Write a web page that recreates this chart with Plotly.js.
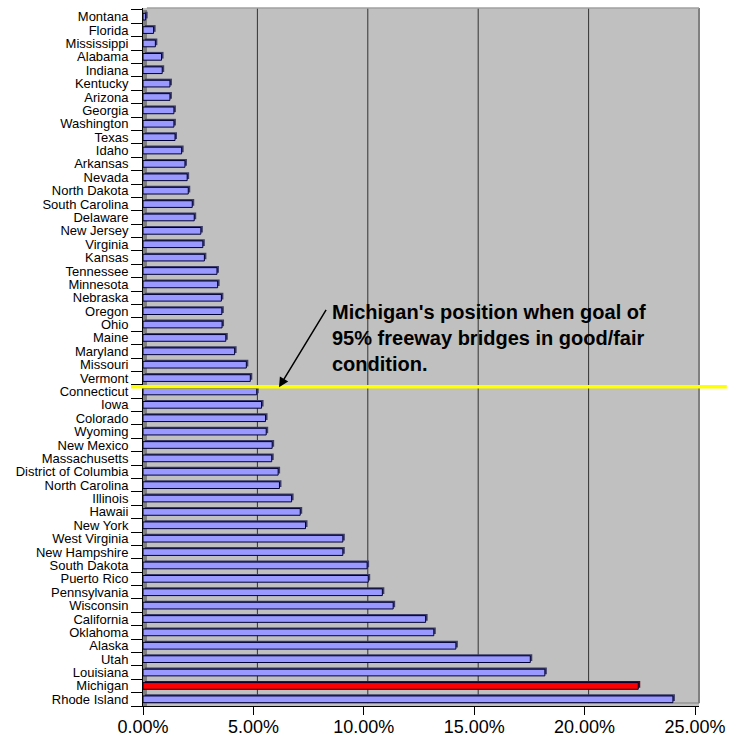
<!DOCTYPE html>
<html>
<head>
<meta charset="utf-8">
<script src="https://cdn.plot.ly/plotly-3.0.1.min.js"></script>
<style>
  html, body { margin: 0; padding: 0; background: #ffffff; }
  #chart { width: 735px; height: 740px; }
</style>
</head>
<body>
<div id="chart"></div>
<script>
var states = ["Montana","Florida","Mississippi","Alabama","Indiana","Kentucky","Arizona","Georgia","Washington","Texas","Idaho","Arkansas","Nevada","North Dakota","South Carolina","Delaware","New Jersey","Virginia","Kansas","Tennessee","Minnesota","Nebraska","Oregon","Ohio","Maine","Maryland","Missouri","Vermont","Connecticut","Iowa","Colorado","Wyoming","New Mexico","Massachusetts","District of Columbia","North Carolina","Illinois","Hawaii","New York","West Virginia","New Hampshire","South Dakota","Puerto Rico","Pennsylvania","Wisconsin","California","Oklahoma","Alaska","Utah","Louisiana","Michigan","Rhode Island"];

var percentValues = [0.12,0.48,0.56,0.84,0.87,1.22,1.22,1.40,1.40,1.45,1.75,1.90,2.00,2.05,2.23,2.32,2.62,2.71,2.78,3.35,3.38,3.55,3.57,3.58,3.75,4.15,4.68,4.86,5.15,5.37,5.55,5.58,5.85,5.83,6.12,6.18,6.73,7.12,7.36,9.05,9.05,10.15,10.20,10.84,11.33,12.80,13.17,14.17,17.54,18.20,22.43,24.00];

var highlightState = "Michigan";
var xTickValues = [0, 5, 10, 15, 20, 25];
var xTickText = ["0.00%", "5.00%", "10.00%", "15.00%", "20.00%", "25.00%"];
var annotationText = "Michigan's position when goal of<br>95% freeway bridges in good/fair<br>condition.";

var frontColors = states.map(function (s) { return s === highlightState ? "#ff0000" : "#9999ff"; });
var sideColors = states.map(function (s) { return s === highlightState ? "#600000" : "#3c3c66"; });

var shadow = {
  type: "bar", orientation: "h",
  y: states, x: percentValues, base: 0.09,
  width: 0.5, offset: -0.37,
  marker: { color: sideColors, line: { width: 0 } },
  hoverinfo: "skip", showlegend: false
};
var front = {
  type: "bar", orientation: "h",
  y: states, x: percentValues,
  width: 0.5, offset: -0.25,
  marker: { color: frontColors, line: { color: "#000033", width: 1 } },
  showlegend: false
};

var shapes = [];
xTickValues.slice(1, 5).forEach(function (v) {
  shapes.push({
    type: "line", layer: "below",
    xref: "x", xsizemode: "pixel", xanchor: v, x0: 4, x1: 4,
    yref: "paper", y0: 0.004, y1: 1,
    line: { color: "#333333", width: 1 }
  });
});
shapes.push({
  type: "rect", layer: "below",
  xref: "x", xsizemode: "pixel", xanchor: 0, x0: 0, x1: 4,
  yref: "paper", y0: 0, y1: 0.997,
  fillcolor: "#808080", line: { width: 0 }
});
shapes.push({
  type: "line", layer: "above",
  xref: "paper", x0: 1, x1: 1, yref: "paper", y0: 0.004, y1: 1,
  line: { color: "#808080", width: 2 }
});
shapes.push({
  type: "line", layer: "above",
  xref: "paper", x0: 0.007, x1: 1, yref: "paper", y0: 1, y1: 1,
  line: { color: "#a0a0a0", width: 1.5 }
});
shapes.push({
  type: "line", layer: "below",
  xref: "paper", x0: 0.007, x1: 1, yref: "paper", y0: 0.0043, y1: 0.0043,
  line: { color: "#808080", width: 1 }
});
shapes.push({
  type: "line", layer: "above",
  xref: "paper", x0: -0.0216, x1: 1.05,
  yref: "paper", y0: 0.4575, y1: 0.4575,
  line: { color: "#ffff00", width: 3.5 }
});

var layout = {
  width: 735, height: 740,
  margin: { l: 143, r: 36, t: 8, b: 34, pad: 0 },
  paper_bgcolor: "#ffffff",
  plot_bgcolor: "#c0c0c0",
  bargap: 0.5,
  barmode: "overlay",
  showlegend: false,
  font: { family: "Liberation Sans, Arial, sans-serif", color: "#000000" },
  xaxis: {
    range: [0, 25.181],
    tickmode: "array", tickvals: xTickValues, ticktext: xTickText,
    ticks: "outside", ticklen: 8, tickcolor: "#000000", tickwidth: 1,
    ticklabelstandoff: -4,
    showgrid: false, zeroline: false,
    showline: true, linecolor: "#000000", linewidth: 1,
    tickfont: { size: 18, color: "#000000" }
  },
  yaxis: {
    type: "category",
    categoryorder: "array", categoryarray: states,
    tickmode: "array", tickvals: states, ticktext: states,
    range: [51.5, -0.649],
    ticks: "outside", ticklen: 11, tickcolor: "#000000", tickwidth: 1,
    tickson: "boundaries",
    ticklabelstandoff: 11,
    showgrid: false, zeroline: false,
    showline: true, linecolor: "#000000", linewidth: 1,
    tickfont: { size: 13, color: "#000000" }
  },
  shapes: shapes,
  annotations: [
    {
      xref: "x", yref: "paper",
      x: 8.45, y: (706 - 299) / 698,
      xanchor: "left", yanchor: "top", align: "left",
      showarrow: false,
      text: annotationText,
      font: { size: 20, color: "#000000", family: "Liberation Sans, Arial, sans-serif", weight: "bold" }
    },
    {
      xref: "x", yref: "paper",
      x: 6.16, y: (706 - 387.3) / 698,
      showarrow: true, text: "",
      ax: 48, ay: -79,
      arrowhead: 2, arrowsize: 1.3, arrowwidth: 1.5, arrowcolor: "#000000"
    }
  ]
};

Plotly.newPlot("chart", [shadow, front], layout, { displayModeBar: false, staticPlot: true });
</script>
</body>
</html>
